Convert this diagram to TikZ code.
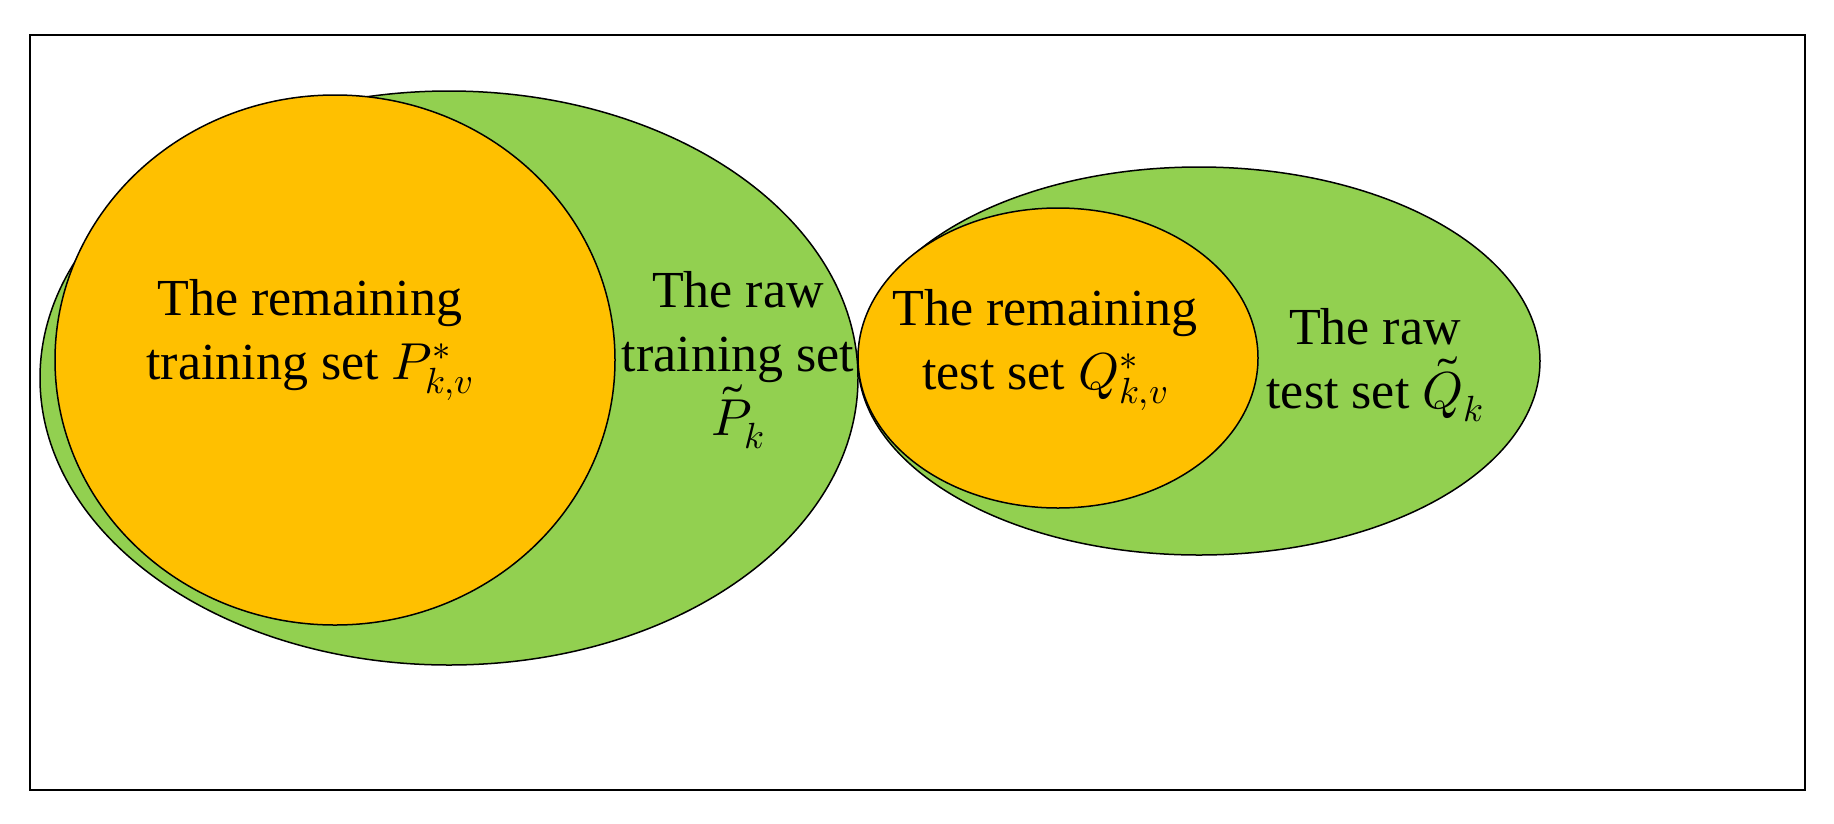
\documentclass[tikz,border=0pt]{standalone}
\usepackage{unicode-math}
\setmainfont{Liberation Serif}
\setmathfont{Latin Modern Math}
\begin{document}
\begin{tikzpicture}[x=1pt,y=-1pt,
  green/.style={fill=gfill,draw=black,line width=1.5pt},
  orange/.style={fill=ofill,draw=black,line width=1.5pt},
  lbl/.style={align=center,font=\fontsize{52}{64}\selectfont,inner sep=0pt}]
\definecolor{gfill}{HTML}{92D050}
\definecolor{ofill}{HTML}{FFC000}
\useasboundingbox (0,0) rectangle (1834,823);
\node[draw=black,line width=2.5pt,minimum width=1775pt,minimum height=755pt,inner sep=0pt] (frame) at (917.5,412.5) {};
\path[green] (449,378) ellipse [x radius=409,y radius=287];
\path[orange] (335,360) ellipse [x radius=280,y radius=265];
\path[green] (1199,361) ellipse [x radius=341,y radius=194];
\path[orange] (1058,358) ellipse [x radius=200,y radius=150];
\node[lbl] (a) at (310,340) {The remaining\\training set $P^{*}_{k,v}$};
\node[lbl] (b) at (738,360) {The raw\\training set\\$\tilde{P}_{k}$};
\node[lbl] (c) at (1045,350) {The remaining\\test set $Q^{*}_{k,v}$};
\node[lbl] (d) at (1375,365) {The raw\\test set $\tilde{Q}_{k}$};
\end{tikzpicture}
\end{document}
